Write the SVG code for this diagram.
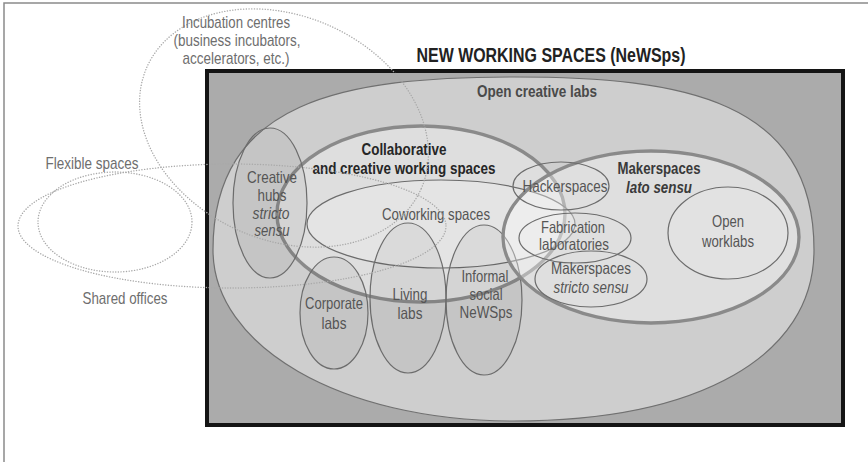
<svg xmlns="http://www.w3.org/2000/svg" width="868" height="462" viewBox="0 0 868 462">
  <style>
    text { font-family: "Liberation Sans Narrow", "Liberation Sans", Arial, sans-serif; text-anchor: middle; }
    .lbl { font-size: 16.5px; fill: #555; }
    .out { font-size: 17px; fill: #6e6e6e; }
    .b { font-weight: bold; }
    .i { font-style: italic; }
    .thin { stroke: #6c6c6c; stroke-width: 1.2; }
    .thick { stroke: #8a8a8a; stroke-width: 3.4; }
    .tint { fill: #000; fill-opacity: 0.045; }
    .dot { fill: none; stroke: #a9a9a9; stroke-width: 1.4; stroke-dasharray: 0.1 2.6; stroke-linecap: round; }
  </style>

  <rect width="868" height="462" fill="#fff"/>
  <!-- page frame -->
  <path d="M4,462 V3 H868" fill="none" stroke="#8a8a8a" stroke-width="1.5"/>

  <!-- NeWSps frame -->
  <g id="newsps">
    <rect x="207" y="71" width="636" height="354" fill="#ababab" stroke="#141414" stroke-width="4"/>
    <text class="b" x="551" y="62" font-size="19.5" fill="#222" textLength="269" lengthAdjust="spacingAndGlyphs">NEW WORKING SPACES (NeWSps)</text>
  </g>

  <g id="open-creative-labs">
    <path d="M213,250 C213,100 344,77 514,77 C684,77 814,100 814,250 C814,356 700,421 513,421 C340,421 213,346 213,250 Z" fill="#cecece" stroke="#707070" stroke-width="1.2"/>
    <text class="b" x="537" y="97" font-size="16" fill="#4a4a4a" textLength="120" lengthAdjust="spacingAndGlyphs">Open creative labs</text>
  </g>

  <g id="collaborative-creative">
    <ellipse cx="421" cy="214" rx="144" ry="88" fill="#fff" fill-opacity="0.32" class="thick"/>
    <text class="b" x="404" y="155" font-size="17" fill="#262626" textLength="85" lengthAdjust="spacingAndGlyphs">Collaborative</text>
    <text class="b" x="404" y="174" font-size="17" fill="#262626" textLength="183" lengthAdjust="spacingAndGlyphs">and creative working spaces</text>
  </g>

  <g id="coworking">
    <ellipse cx="441" cy="224" rx="134" ry="44" fill="#fff" fill-opacity="0.2" class="thin"/>
    <text class="lbl" x="436" y="220" textLength="108" lengthAdjust="spacingAndGlyphs">Coworking spaces</text>
  </g>

  <g id="creative-hubs">
    <ellipse cx="270" cy="203" rx="37" ry="75" class="thin tint"/>
    <text class="lbl" x="272" y="183" textLength="50" lengthAdjust="spacingAndGlyphs">Creative</text>
    <text class="lbl" x="272" y="201" textLength="29" lengthAdjust="spacingAndGlyphs">hubs</text>
    <text class="lbl i" x="271" y="219" textLength="37" lengthAdjust="spacingAndGlyphs">stricto</text>
    <text class="lbl i" x="272" y="236" textLength="35" lengthAdjust="spacingAndGlyphs">sensu</text>
  </g>

  <g id="corporate-labs">
    <ellipse cx="334" cy="313" rx="34" ry="56" class="thin tint"/>
    <text class="lbl" x="334" y="309" textLength="58" lengthAdjust="spacingAndGlyphs">Corporate</text>
    <text class="lbl" x="334" y="329" textLength="25" lengthAdjust="spacingAndGlyphs">labs</text>
  </g>

  <g id="living-labs">
    <ellipse cx="408" cy="298" rx="38" ry="75" class="thin tint"/>
    <text class="lbl" x="410" y="300" textLength="35" lengthAdjust="spacingAndGlyphs">Living</text>
    <text class="lbl" x="410" y="319" textLength="25" lengthAdjust="spacingAndGlyphs">labs</text>
  </g>

  <g id="informal-social">
    <ellipse cx="484" cy="300" rx="38" ry="75" class="thin tint"/>
    <text class="lbl" x="485" y="282" textLength="47" lengthAdjust="spacingAndGlyphs">Informal</text>
    <text class="lbl" x="486" y="300" textLength="33" lengthAdjust="spacingAndGlyphs">social</text>
    <text class="lbl" x="486" y="318" textLength="53" lengthAdjust="spacingAndGlyphs">NeWSps</text>
  </g>

  <g id="makerspaces-lato">
    <ellipse cx="651" cy="237" rx="148" ry="86" fill="#fff" fill-opacity="0.35" class="thick"/>
    <text class="b" x="659" y="174" font-size="16.5" fill="#3a3a3a" textLength="83" lengthAdjust="spacingAndGlyphs">Makerspaces</text>
    <text class="b i" x="659" y="193" font-size="16.5" fill="#3a3a3a" textLength="66" lengthAdjust="spacingAndGlyphs">lato sensu</text>
  </g>

  <g id="hackerspaces">
    <ellipse cx="561" cy="186" rx="48" ry="24" fill="none" class="thin"/>
    <text class="lbl" x="565" y="192" textLength="85" lengthAdjust="spacingAndGlyphs">Hackerspaces</text>
  </g>

  <g id="fabrication-labs">
    <ellipse cx="575" cy="238" rx="56" ry="25" fill="none" class="thin"/>
    <text class="lbl" x="573" y="233" textLength="64" lengthAdjust="spacingAndGlyphs">Fabrication</text>
    <text class="lbl" x="574" y="250" textLength="70" lengthAdjust="spacingAndGlyphs">laboratories</text>
  </g>

  <g id="makerspaces-stricto">
    <ellipse cx="591" cy="279" rx="56" ry="28" fill="none" class="thin"/>
    <text class="lbl" x="591" y="274" textLength="80" lengthAdjust="spacingAndGlyphs">Makerspaces</text>
    <text class="lbl i" x="591" y="293" textLength="75" lengthAdjust="spacingAndGlyphs">stricto sensu</text>
  </g>

  <g id="open-worklabs">
    <ellipse cx="728" cy="233" rx="60" ry="46" fill="#fff" fill-opacity="0.12" class="thin"/>
    <text class="lbl" x="728" y="227" textLength="32" lengthAdjust="spacingAndGlyphs">Open</text>
    <text class="lbl" x="728" y="247" textLength="52" lengthAdjust="spacingAndGlyphs">worklabs</text>
  </g>

  <!-- neighbouring space types, dotted -->
  <g id="incubation-centres">
    <ellipse cx="284" cy="128" rx="150" ry="112" transform="rotate(24 284 128)" class="dot"/>
    <text class="out" x="236" y="28" textLength="108" lengthAdjust="spacingAndGlyphs">Incubation centres</text>
    <text class="out" x="237" y="46" textLength="127" lengthAdjust="spacingAndGlyphs">(business incubators,</text>
    <text class="out" x="236" y="64" textLength="107" lengthAdjust="spacingAndGlyphs">accelerators, etc.)</text>
  </g>

  <g id="flexible-spaces">
    <ellipse cx="232" cy="226" rx="214" ry="62" class="dot"/>
    <text class="out" x="92" y="169" textLength="93" lengthAdjust="spacingAndGlyphs">Flexible spaces</text>
  </g>

  <g id="shared-offices">
    <ellipse cx="115" cy="222" rx="77" ry="50" class="dot"/>
    <text class="out" x="125" y="304" textLength="85" lengthAdjust="spacingAndGlyphs">Shared offices</text>
  </g>
</svg>
